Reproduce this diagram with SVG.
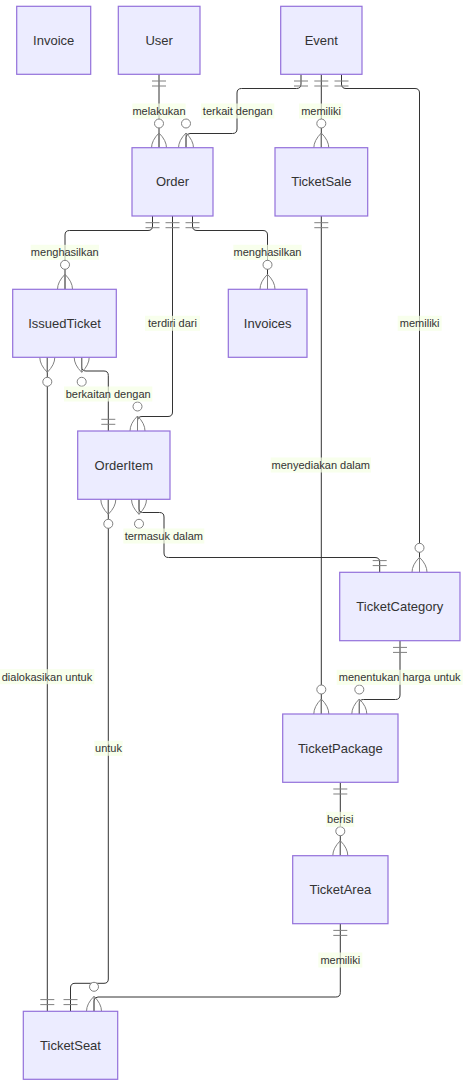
<svg xmlns="http://www.w3.org/2000/svg" xmlns:xlink="http://www.w3.org/1999/xlink" width="476" height="1086" viewBox="0 0 476 1086">
<style>
.box{fill:#ECECFF;stroke:#9370DB;stroke-width:1.2}
.nt{font-family:"Liberation Sans",Arial,sans-serif;font-size:13px;fill:#333;text-anchor:middle;dominant-baseline:central}
.ln{fill:none;stroke:#333;stroke-width:1}
.mk{fill:none;stroke:gray;stroke-width:1}
.lb{fill:#f5ffe4;fill-opacity:0.7}
.lt{font-family:"Liberation Sans",Arial,sans-serif;font-size:11px;fill:#333;text-anchor:middle;dominant-baseline:central}
</style>
<defs>
<g id="one" class="mk"><path d="M-7,-6.7H7M-7,-11.7H7"/></g>
<g id="many" class="mk"><circle cx="0" cy="-24.5" r="4.5" fill="#fff"/><path d="M0,-15Q-7.5,-7.5 -7.5,0M0,-15Q7.5,-7.5 7.5,0M0,-15V0"/></g>
</defs>
<rect width="476" height="1086" fill="#fff"/>
<g id="connectors">
<path class="ln" d="M159,74.3V148"/>
<path class="ln" d="M301,74.3V84Q301,88.5 296.5,88.5H241.5Q237,88.5 237,93V129Q237,133.5 232.5,133.5H190Q186,133.5 186,137.5V148"/>
<path class="ln" d="M321.3,74.3V148"/>
<path class="ln" d="M341.5,74.3V84Q341.5,88.5 346,88.5H415Q419.5,88.5 419.5,93V572.3"/>
<path class="ln" d="M152.5,216V226Q152.5,230.5 148,230.5H69.5Q65,230.5 65,235V289.3"/>
<path class="ln" d="M192.5,216V226Q192.5,230.5 197,230.5H263Q267.5,230.5 267.5,235V289.3"/>
<path class="ln" d="M172.5,216V412Q172.5,416.5 168,416.5H142Q137.5,416.5 137.5,421V431"/>
<path class="ln" d="M81.7,357.3V367Q81.7,371 86,371H104Q108.3,371 108.3,375.5V431"/>
<path class="ln" d="M47.3,357.3V1011.3"/>
<path class="ln" d="M108.3,499.3V979Q108.3,983.3 104,983.3H75Q70.5,983.3 70.5,988V1011.3"/>
<path class="ln" d="M139,499.3V509Q139,512.5 142.5,512.5H159.5Q164,512.5 164,517V553Q164,557.5 168.5,557.5H375Q379.7,557.5 379.7,562V572.3"/>
<path class="ln" d="M321.3,216V714"/>
<path class="ln" d="M400,640.7V695Q400,699.5 395.5,699.5H363.5Q359.3,699.5 359.3,703.5V714"/>
<path class="ln" d="M340.3,782.3V855.7"/>
<path class="ln" d="M340.3,923.7V992.5Q340.3,997 335.8,997H98Q94,997 94,1001V1011.3"/>
<use xlink:href="#one" transform="translate(159,74.3) scale(1,-1)"/>
<use xlink:href="#one" transform="translate(301,74.3) scale(1,-1)"/>
<use xlink:href="#one" transform="translate(321.3,74.3) scale(1,-1)"/>
<use xlink:href="#one" transform="translate(341.5,74.3) scale(1,-1)"/>
<use xlink:href="#one" transform="translate(152.5,216) scale(1,-1)"/>
<use xlink:href="#one" transform="translate(172.5,216) scale(1,-1)"/>
<use xlink:href="#one" transform="translate(192.5,216) scale(1,-1)"/>
<use xlink:href="#one" transform="translate(321.3,216) scale(1,-1)"/>
<use xlink:href="#one" transform="translate(400,640.7) scale(1,-1)"/>
<use xlink:href="#one" transform="translate(340.3,782.3) scale(1,-1)"/>
<use xlink:href="#one" transform="translate(340.3,923.7) scale(1,-1)"/>
<use xlink:href="#one" transform="translate(108.3,431)"/>
<use xlink:href="#one" transform="translate(379.7,572.3)"/>
<use xlink:href="#one" transform="translate(47.3,1011.3)"/>
<use xlink:href="#one" transform="translate(70.5,1011.3)"/>
<use xlink:href="#many" transform="translate(159,148)"/>
<use xlink:href="#many" transform="translate(186,148)"/>
<use xlink:href="#many" transform="translate(321.3,148)"/>
<use xlink:href="#many" transform="translate(65,289.3)"/>
<use xlink:href="#many" transform="translate(267.5,289.3)"/>
<use xlink:href="#many" transform="translate(137.5,431)"/>
<use xlink:href="#many" transform="translate(419.5,572.3)"/>
<use xlink:href="#many" transform="translate(321.3,714)"/>
<use xlink:href="#many" transform="translate(359.3,714)"/>
<use xlink:href="#many" transform="translate(340.3,855.7)"/>
<use xlink:href="#many" transform="translate(94,1011.3)"/>
<use xlink:href="#many" transform="translate(47.3,357.3) scale(1,-1)"/>
<use xlink:href="#many" transform="translate(81.7,357.3) scale(1,-1)"/>
<use xlink:href="#many" transform="translate(108.3,499.3) scale(1,-1)"/>
<use xlink:href="#many" transform="translate(139,499.3) scale(1,-1)"/>
<rect class="lb" x="132.3" y="103.5" width="53.4" height="15"/><text class="lt" x="159" y="111">melakukan</text>
<rect class="lb" x="201" y="103.5" width="73.3" height="15"/><text class="lt" x="237.7" y="111">terkait dengan</text>
<rect class="lb" x="299" y="103.5" width="43.7" height="15"/><text class="lt" x="321" y="111">memiliki</text>
<rect class="lb" x="30.7" y="244.8" width="68.3" height="15"/><text class="lt" x="64.8" y="252.3">menghasilkan</text>
<rect class="lb" x="233.3" y="244.8" width="68.4" height="15"/><text class="lt" x="267.5" y="252.3">menghasilkan</text>
<rect class="lb" x="145" y="315.8" width="55" height="15"/><text class="lt" x="172.5" y="323.3">terdiri dari</text>
<rect class="lb" x="397.7" y="315.8" width="44" height="15"/><text class="lt" x="419.7" y="323.3">memiliki</text>
<rect class="lb" x="64" y="386.5" width="88.3" height="15"/><text class="lt" x="108.2" y="394">berkaitan dengan</text>
<rect class="lb" x="270.7" y="457.5" width="100.3" height="15"/><text class="lt" x="320.8" y="465">menyediakan dalam</text>
<rect class="lb" x="123.3" y="528.5" width="81" height="15"/><text class="lt" x="163.8" y="536">termasuk dalam</text>
<rect class="lb" x="0" y="669.2" width="94.3" height="15"/><text class="lt" x="47" y="676.7">dialokasikan untuk</text>
<rect class="lb" x="336.7" y="669.8" width="126" height="15"/><text class="lt" x="399.7" y="677.3">menentukan harga untuk</text>
<rect class="lb" x="94.3" y="740.8" width="28.4" height="15"/><text class="lt" x="108.5" y="748.3">untuk</text>
<rect class="lb" x="326" y="811.8" width="28.3" height="15"/><text class="lt" x="340.2" y="819.3">berisi</text>
<rect class="lb" x="318.3" y="952.5" width="44" height="15"/><text class="lt" x="340.3" y="960">memiliki</text>
</g>
<g id="node-Invoice"><rect class="box" x="16.7" y="6.3" width="74" height="68"/><text class="nt" x="53.7" y="40.3">Invoice</text></g>
<g id="node-User"><rect class="box" x="118.3" y="6.3" width="81.7" height="68"/><text class="nt" x="159.2" y="40.3">User</text></g>
<g id="node-Event"><rect class="box" x="280.7" y="6.3" width="81.3" height="68"/><text class="nt" x="321.3" y="40.3">Event</text></g>
<g id="node-Order"><rect class="box" x="132" y="147.7" width="81" height="68.3"/><text class="nt" x="172.5" y="181.8">Order</text></g>
<g id="node-TicketSale"><rect class="box" x="275" y="147.7" width="92.7" height="68.3"/><text class="nt" x="321.3" y="181.8">TicketSale</text></g>
<g id="node-IssuedTicket"><rect class="box" x="12.7" y="289.3" width="103.6" height="68"/><text class="nt" x="64.5" y="323.3">IssuedTicket</text></g>
<g id="node-Invoices"><rect class="box" x="228.3" y="289.3" width="78.7" height="68"/><text class="nt" x="267.7" y="323.3">Invoices</text></g>
<g id="node-OrderItem"><rect class="box" x="77.7" y="431" width="92.3" height="68.3"/><text class="nt" x="123.8" y="465.2">OrderItem</text></g>
<g id="node-TicketCategory"><rect class="box" x="339.7" y="572.3" width="120.3" height="68.4"/><text class="nt" x="399.8" y="606.5">TicketCategory</text></g>
<g id="node-TicketPackage"><rect class="box" x="282.7" y="714" width="115.3" height="68.3"/><text class="nt" x="340.3" y="748.2">TicketPackage</text></g>
<g id="node-TicketArea"><rect class="box" x="292.7" y="855.7" width="95.3" height="68"/><text class="nt" x="340.3" y="889.7">TicketArea</text></g>
<g id="node-TicketSeat"><rect class="box" x="23.3" y="1011.3" width="94.4" height="68"/><text class="nt" x="70.5" y="1045.3">TicketSeat</text></g>
</svg>
